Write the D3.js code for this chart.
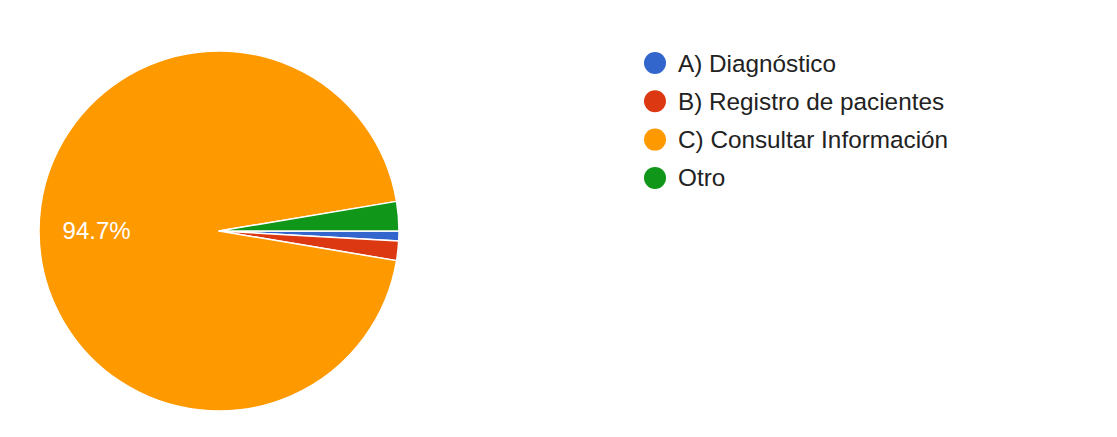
<!DOCTYPE html>
<html>
<head>
<meta charset="utf-8">
<script src="https://cdn.jsdelivr.net/npm/d3@7"></script>
<style>
  html, body { margin: 0; padding: 0; background: #ffffff; }
  svg { display: block; }
</style>
</head>
<body>
<svg id="chart" width="1117" height="437"></svg>
<script>
// Response counts per option
const categories = ["A) Diagnóstico", "B) Registro de pacientes", "C) Consultar Información", "Otro"];
const counts = [1, 2, 108, 3];
const colors = ["#3366cc", "#dc3912", "#ff9900", "#109618"];

const width = 1117, height = 437;
const cx = 219, cy = 231, radius = 180;

const svg = d3.select("#chart");
const total = d3.sum(counts);

const data = categories.map((c, i) => ({ name: c, value: counts[i], color: colors[i] }));

// Slices run clockwise starting at 3 o'clock
const pie = d3.pie()
  .value(d => d.value)
  .sort(null)
  .startAngle(Math.PI / 2)
  .endAngle(Math.PI / 2 + 2 * Math.PI);

const arc = d3.arc().innerRadius(0).outerRadius(radius);
const labelArc = d3.arc().innerRadius(radius * 0.68).outerRadius(radius * 0.68);

const g = svg.append("g").attr("transform", `translate(${cx},${cy})`);

const arcs = pie(data);

g.selectAll("path.slice")
  .data(arcs)
  .join("path")
  .attr("class", "slice")
  .attr("d", arc)
  .attr("fill", d => d.data.color)
  .attr("stroke", "#ffffff")
  .attr("stroke-width", 1.5)
  .attr("stroke-linejoin", "round");

// Percentage label on slices large enough to hold it
const pct = d3.format(".1%");
g.selectAll("text.pct")
  .data(arcs.filter(d => d.data.value / total > 0.05))
  .join("text")
  .attr("class", "pct")
  .attr("transform", d => `translate(${labelArc.centroid(d)})`)
  .attr("text-anchor", "middle")
  .attr("dy", "0.35em")
  .attr("fill", "#ffffff")
  .style("font-family", "'Liberation Sans', Arial, sans-serif")
  .style("font-size", "24px")
  .text(d => pct(d.data.value / total));

// Legend
const legendX = 655, legendY = 63, rowGap = 38.3;
const legend = svg.append("g");
const rows = legend.selectAll("g.row")
  .data(data)
  .join("g")
  .attr("class", "row")
  .attr("transform", (d, i) => `translate(${legendX},${legendY + i * rowGap})`);

rows.append("circle")
  .attr("r", 11)
  .attr("fill", d => d.color);

rows.append("text")
  .attr("x", 23)
  .attr("dy", "0.35em")
  .attr("fill", "#222222")
  .style("font-family", "'Liberation Sans', Arial, sans-serif")
  .style("font-size", "24.3px")
  .text(d => d.name);
</script>
</body>
</html>
